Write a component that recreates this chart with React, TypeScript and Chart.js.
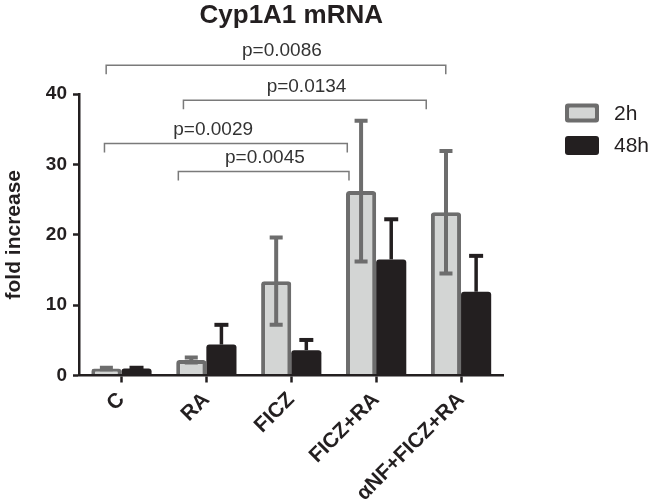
import React, { useEffect, useRef } from 'react';
import { Chart, registerables } from 'chart.js';

Chart.register(...registerables);

const categories = ['C', 'RA', 'FICZ', 'FICZ+RA', 'αNF+FICZ+RA'];
const seriesLabels = ['2h', '48h'];
const mean2h = [1.0, 2.2, 13.4, 26.2, 23.2];
const err2h = [0.1, 0.35, 6.2, 10.0, 8.7];
const mean48h = [1.0, 4.4, 3.6, 16.5, 11.9];
const err48h = [0.1, 2.8, 1.45, 5.7, 5.1];
const yTickValues = [0, 10, 20, 30, 40];

const chartTitle = 'Cyp1A1 mRNA';
const yTitle = 'fold increase';

// significance brackets (category-index positions, y in data units)
const bracketLabels = ['p=0.0086', 'p=0.0134', 'p=0.0029', 'p=0.0045'];
const bracketFrom = [-0.18, 0.73, -0.2, 0.67];
const bracketTo = [3.82, 3.59, 2.66, 2.68];
const bracketY = [44.1, 39.1, 32.95, 29.0];
const bracketLabelAt = [1.89, 2.18, 1.08, 1.69];

const FONT = "'Liberation Sans', Arial, Helvetica, sans-serif";
const GRAY_FILL = '#d3d5d4';
const GRAY_LINE = '#6d6d6d';
const BLACK = '#231f20';

const errorBarsPlugin = {
  id: 'errorBars',
  afterDatasetsDraw(chart: any) {
    const ctx = chart.ctx;
    const ys = chart.scales.y;
    const errs = [err2h, err48h];
    errs.forEach((errList, di) => {
      const meta = chart.getDatasetMeta(di);
      const vals = chart.data.datasets[di].data as number[];
      meta.data.forEach((bar: any, i: number) => {
        const v = vals[i];
        const e = errList[i];
        const x = bar.x;
        const yTop = ys.getPixelForValue(v + e);
        const yBot = di === 0 ? ys.getPixelForValue(v - e) : bar.y;
        const color = di === 0 ? GRAY_LINE : BLACK;
        const half = di === 0 ? 6.5 : 7;
        ctx.save();
        ctx.strokeStyle = color;
        ctx.lineWidth = di === 0 ? 4 : 3.5;
        ctx.lineCap = 'butt';
        ctx.beginPath();
        ctx.moveTo(x, yTop);
        ctx.lineTo(x, yBot);
        ctx.stroke();
        ctx.lineWidth = 4;
        ctx.beginPath();
        ctx.moveTo(x - half, yTop);
        ctx.lineTo(x + half, yTop);
        if (di === 0) {
          ctx.moveTo(x - half, yBot);
          ctx.lineTo(x + half, yBot);
        }
        ctx.stroke();
        ctx.restore();
      });
    });
  },
};

const annotationsPlugin = {
  id: 'annotations',
  afterDraw(chart: any) {
    const ctx = chart.ctx;
    const xs = chart.scales.x;
    const ys = chart.scales.y;
    const area = chart.chartArea;
    ctx.save();
    // title
    ctx.fillStyle = BLACK;
    ctx.font = `bold 26px ${FONT}`;
    ctx.textAlign = 'center';
    ctx.textBaseline = 'middle';
    ctx.fillText(chartTitle, (area.left + area.right) / 2, 16);

    // brackets
    ctx.strokeStyle = '#7a7a7a';
    ctx.lineWidth = 1.5;
    ctx.font = `19px ${FONT}`;
    ctx.fillStyle = '#333333';
    bracketLabels.forEach((lab, i) => {
      const x1 = xs.getPixelForValue(bracketFrom[i]);
      const x2 = xs.getPixelForValue(bracketTo[i]);
      const y = ys.getPixelForValue(bracketY[i]);
      ctx.beginPath();
      ctx.moveTo(x1, y + 9);
      ctx.lineTo(x1, y);
      ctx.lineTo(x2, y);
      ctx.lineTo(x2, y + 9);
      ctx.stroke();
      ctx.fillText(lab, xs.getPixelForValue(bracketLabelAt[i]), y - 14);
    });

    // legend
    const lx = 565;
    const rows = [113, 145.5];
    seriesLabels.forEach((lab, i) => {
      const cy = rows[i];
      const w = 34;
      const h = 19;
      ctx.beginPath();
      ctx.roundRect(lx, cy - h / 2, w, h, 3);
      ctx.fillStyle = i === 0 ? GRAY_LINE : BLACK;
      ctx.fill();
      if (i === 0) {
        ctx.beginPath();
        ctx.roundRect(lx + 4, cy - h / 2 + 4, w - 8, h - 8, 1);
        ctx.fillStyle = GRAY_FILL;
        ctx.fill();
      }
      ctx.fillStyle = BLACK;
      ctx.font = `21px ${FONT}`;
      ctx.textAlign = 'left';
      ctx.textBaseline = 'middle';
      ctx.fillText(lab, 614, cy + 1);
    });
    ctx.restore();
  },
};

export default function App() {
  const ref = useRef<HTMLCanvasElement | null>(null);

  useEffect(() => {
    if (!ref.current) return;
    const chart = new Chart(ref.current, {
      type: 'bar',
      data: {
        labels: categories,
        datasets: [
          {
            label: seriesLabels[0],
            data: mean2h,
            backgroundColor: GRAY_FILL,
            borderColor: GRAY_LINE,
            borderWidth: 4,
            borderRadius: 3,
            borderSkipped: 'start',
            categoryPercentage: 0.71,
            barPercentage: 1.0,
          },
          {
            label: seriesLabels[1],
            data: mean48h,
            backgroundColor: BLACK,
            borderWidth: 0,
            borderRadius: 3,
            borderSkipped: 'start',
            categoryPercentage: 0.71,
            barPercentage: 1.0,
          },
        ],
      },
      options: {
        responsive: false,
        animation: false,
        layout: { padding: { top: 94, right: 147.5, left: 0, bottom: 0 } },
        plugins: {
          legend: { display: false },
          title: { display: false },
          tooltip: { enabled: false },
        },
        scales: {
          x: {
            offset: true,
            grid: {
              offset: false,
              drawOnChartArea: false,
              drawTicks: true,
              tickLength: 7,
              tickWidth: 2.5,
              tickColor: BLACK,
            },
            border: { display: true, color: BLACK, width: 2.5, z: 1 },
            ticks: {
              color: BLACK,
              font: { family: FONT, size: 21, weight: 'bold' },
              maxRotation: 45,
              minRotation: 45,
              padding: 5,
              autoSkip: false,
            },
            afterFit: (s: any) => {
              s.height = 504 - 375.5;
            },
          },
          y: {
            min: 0,
            max: 40,
            afterBuildTicks: (s: any) => {
              s.ticks = yTickValues.map((v) => ({ value: v }));
            },
            grid: {
              drawOnChartArea: false,
              drawTicks: true,
              tickLength: 6,
              tickWidth: 2.5,
              tickColor: BLACK,
            },
            border: { display: true, color: BLACK, width: 2.5, z: 1 },
            ticks: {
              color: BLACK,
              font: { family: FONT, size: 19, weight: 'bold' },
              padding: 6,
            },
            title: {
              display: true,
              text: yTitle,
              color: BLACK,
              font: { family: FONT, size: 21, weight: 'bold' },
              padding: { top: 2, bottom: 0 },
            },
            afterFit: (s: any) => {
              s.width = 79;
            },
          },
        },
      },
      plugins: [errorBarsPlugin, annotationsPlugin],
    });
    return () => chart.destroy();
  }, []);

  return (
    <div style={{ position: 'fixed', left: 0, top: 0, width: 651, height: 504, background: '#ffffff' }}>
      <canvas ref={ref} width={651} height={504} style={{ width: 651, height: 504, display: 'block' }} />
    </div>
  );
}
